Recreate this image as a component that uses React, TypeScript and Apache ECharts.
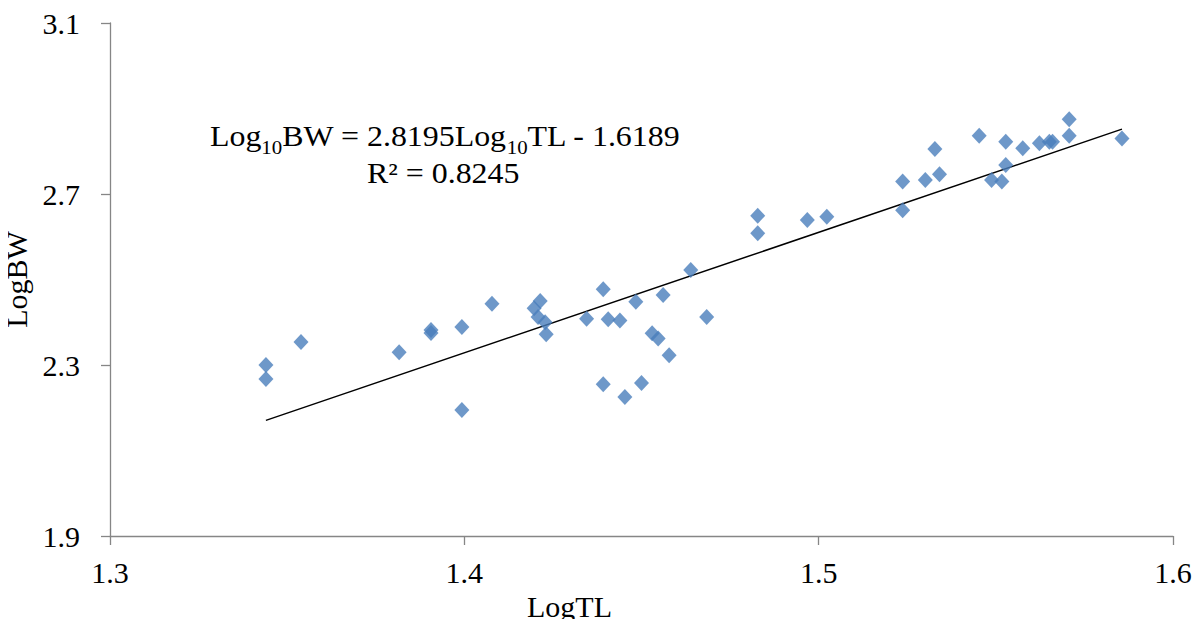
import React, { useEffect, useRef } from "react";
import * as echarts from "echarts";

const logTL: number[] = [
  1.344, 1.344, 1.3539, 1.3816, 1.3906, 1.3906, 1.3993, 1.3993, 1.4078,
  1.4197, 1.4214, 1.4208, 1.4228, 1.4231, 1.4345, 1.4392, 1.4392, 1.4406,
  1.4439, 1.4453, 1.4484, 1.45, 1.453, 1.4547, 1.4561, 1.4578, 1.4639,
  1.4684, 1.4828, 1.4828, 1.4968, 1.5023, 1.5237, 1.5237, 1.5301, 1.5328,
  1.5341, 1.5453, 1.5488, 1.5517, 1.5528, 1.5528, 1.5576, 1.5623, 1.5651,
  1.566, 1.5707, 1.5707, 1.5856,
];
const logBW: number[] = [
  2.3, 2.267, 2.354, 2.33, 2.382, 2.375, 2.389, 2.195, 2.443,
  2.433, 2.45, 2.412, 2.4, 2.372, 2.408, 2.477, 2.255, 2.407,
  2.404, 2.225, 2.448, 2.258, 2.374, 2.362, 2.464, 2.323, 2.522,
  2.412, 2.649, 2.608, 2.639, 2.647, 2.729, 2.662, 2.733, 2.805,
  2.746, 2.836, 2.733, 2.729, 2.822, 2.768, 2.807, 2.819, 2.822,
  2.822, 2.875, 2.836, 2.83,
];
const xTicks: number[] = [1.3, 1.4, 1.5, 1.6];
const yTicks: number[] = [1.9, 2.3, 2.7, 3.1];
const slope = 2.8195;
const intercept = -1.6189;
const r2 = 0.8245;

const FONT = '"Liberation Serif", "Times New Roman", serif';

export default function App() {
  const ref = useRef<HTMLDivElement>(null);
  useEffect(() => {
    if (!ref.current) return;
    const chart = echarts.init(ref.current, null, { renderer: "svg" });
    const points = logTL.map((x, i) => [x, logBW[i]]);
    const xMin = Math.min(...logTL);
    const xMax = Math.max(...logTL);
    const trend = [
      [xMin, slope * xMin + intercept],
      [xMax, slope * xMax + intercept],
    ];
    const axisColor = "#868686";
    chart.setOption({
      animation: false,
      backgroundColor: "#ffffff",
      grid: {
        left: 110,
        right: 31,
        top: 23,
        bottom: 91,
        containLabel: false,
        outerBoundsMode: "none",
      },
      xAxis: {
        type: "value",
        min: 1.3,
        max: 1.6,
        name: "LogTL",
        nameLocation: "middle",
        nameGap: 54,
        nameTextStyle: {
          fontFamily: FONT,
          fontSize: 30,
          color: "#000",
          padding: [0, 144, 0, 0],
        },
        axisLine: { show: true, lineStyle: { color: axisColor, width: 1.3 } },
        axisTick: {
          show: true,
          length: 9,
          customValues: xTicks,
          lineStyle: { color: axisColor, width: 1.3 },
        },
        axisLabel: {
          customValues: xTicks,
          formatter: (v: number) => v.toFixed(1),
          fontFamily: FONT,
          fontSize: 30,
          color: "#000",
          margin: 21,
        },
        splitLine: { show: false },
      },
      yAxis: {
        type: "value",
        min: 1.9,
        max: 3.1,
        name: "LogBW",
        nameLocation: "middle",
        nameGap: 73,
        nameRotate: 90,
        nameTextStyle: { fontFamily: FONT, fontSize: 30, color: "#000" },
        axisLine: { show: true, lineStyle: { color: axisColor, width: 1.3 } },
        axisTick: {
          show: true,
          length: 9,
          customValues: yTicks,
          lineStyle: { color: axisColor, width: 1.3 },
        },
        axisLabel: {
          customValues: yTicks,
          formatter: (v: number) => v.toFixed(1),
          fontFamily: FONT,
          fontSize: 30,
          color: "#000",
          margin: 30,
        },
        splitLine: { show: false },
      },
      series: [
        {
          type: "line",
          data: trend,
          showSymbol: false,
          symbol: "none",
          lineStyle: { color: "#000000", width: 1.5 },
          z: 1,
        },
        {
          type: "scatter",
          data: points,
          symbol: "diamond",
          symbolSize: [15, 16],
          itemStyle: { color: "#4A7EBB" },
          z: 2,
        },
      ],
      graphic: [
        {
          type: "text",
          x: 210,
          y: 136,
          scaleX: 1.1,
          style: {
            x: 0,
            y: 0,
            align: "left",
            verticalAlign: "middle",
            text: `{m|Log}{s|10}{m|BW = ${slope}Log}{s|10}{m|TL - ${Math.abs(intercept)}}`,
            rich: {
              m: { fontFamily: FONT, fontSize: 29, fill: "#000", lineHeight: 34, verticalAlign: "middle" },
              s: { fontFamily: FONT, fontSize: 19, fill: "#000", lineHeight: 20, verticalAlign: "middle", padding: [22, 0, 0, 0] },
            },
          },
        },
        {
          type: "text",
          x: 367,
          y: 173,
          scaleX: 1.1,
          style: {
            x: 0,
            y: 0,
            align: "left",
            verticalAlign: "middle",
            text: `R² = ${r2}`,
            fontFamily: FONT,
            fontSize: 29,
            fill: "#000",
          },
        },
      ],
    });
    return () => chart.dispose();
  }, []);
  return <div ref={ref} style={{ width: 1204, height: 627, margin: -8 }} />;
}
